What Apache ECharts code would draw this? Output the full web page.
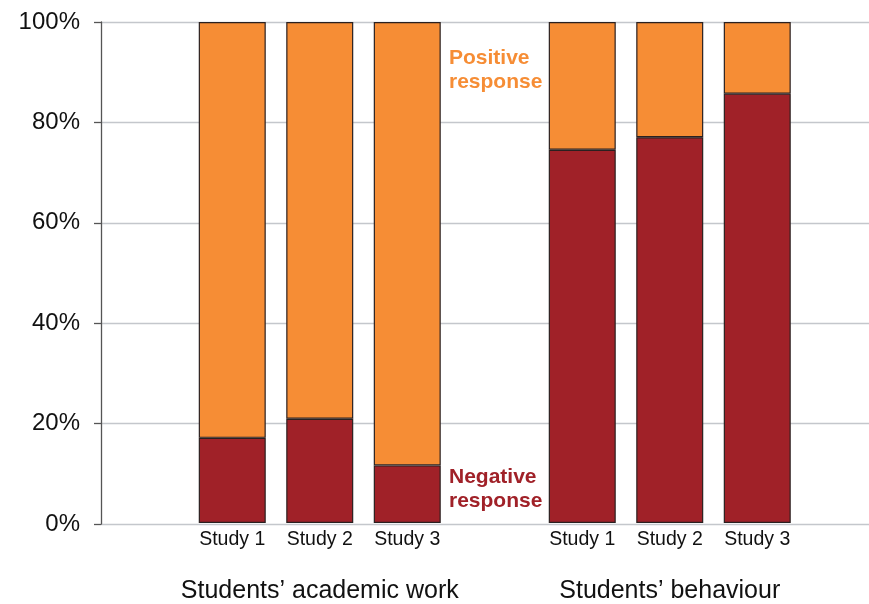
<!DOCTYPE html>
<html>
<head>
<meta charset="utf-8">
<title>Responses by study</title>
<script src="https://cdn.jsdelivr.net/npm/echarts@6/dist/echarts.min.js"></script>
<style>
  html, body { margin: 0; padding: 0; background: #ffffff; }
  #chart { width: 869px; height: 604px; }
</style>
</head>
<body>
<div id="chart"></div>
<script>
// Slots along the x axis; empty strings are spacer slots between the two groups.
const studyLabels = ['', 'Study 1', 'Study 2', 'Study 3', '', 'Study 1', 'Study 2', 'Study 3'];
const groupLabels = ['', '', 'Students\u2019 academic work', '', '', '', 'Students\u2019 behaviour', ''];

// Share of responses (%) in each study.
const negativeShare = [null, 17, 20.8, 11.5, null, 74.5, 77, 85.7];
const positiveShare = [null, 83, 79.2, 88.5, null, 25.5, 23, 14.3];

const yTicks = [0, 20, 40, 60, 80, 100];

const FONT = 'Liberation Sans, Arial, Helvetica, sans-serif';
const ORANGE = '#F68D35';
const DARK_RED = '#A02128';

const PLOT_LEFT = 101;
const PLOT_TOP = 22;
const PLOT_HEIGHT = 502;

const chart = echarts.init(document.getElementById('chart'), null, { renderer: 'canvas' });

chart.setOption({
  animation: false,
  backgroundColor: '#ffffff',
  grid: [
    // bars
    { left: PLOT_LEFT, top: PLOT_TOP, width: 700, height: PLOT_HEIGHT },
    // value axis and gridlines running to the right edge
    { left: PLOT_LEFT, top: PLOT_TOP, right: 0, height: PLOT_HEIGHT }
  ],
  xAxis: [
    {
      type: 'category',
      gridIndex: 0,
      data: studyLabels,
      axisLine: { show: false },
      axisTick: { show: false },
      axisLabel: { color: '#111', fontFamily: FONT, fontSize: 19.5, margin: 7, interval: 0 }
    },
    {
      type: 'category',
      gridIndex: 0,
      position: 'bottom',
      offset: 53,
      data: groupLabels,
      axisLine: { show: false },
      axisTick: { show: false },
      splitLine: { show: false },
      axisLabel: { color: '#111', fontFamily: FONT, fontSize: 25, margin: 3, interval: 0 }
    },
    {
      type: 'value',
      gridIndex: 1,
      show: false,
      min: 0,
      max: 1
    }
  ],
  yAxis: [
    {
      type: 'value',
      gridIndex: 0,
      min: yTicks[0],
      max: yTicks[yTicks.length - 1],
      interval: 20,
      show: false,
      splitLine: { show: false }
    },
    {
      type: 'value',
      gridIndex: 1,
      min: yTicks[0],
      max: yTicks[yTicks.length - 1],
      interval: 20,
      axisLine: { show: true, lineStyle: { color: '#555', width: 1.3 } },
      axisTick: { show: true, inside: false, length: 7, lineStyle: { color: '#555', width: 1.3 } },
      axisLabel: { formatter: '{value}%', color: '#111', fontFamily: FONT, fontSize: 24, margin: 21 },
      splitLine: { show: true, lineStyle: { color: '#c4c7cc', width: 1.4 } }
    }
  ],
  series: [
    {
      name: 'Negative response',
      type: 'bar',
      stack: 'share',
      xAxisIndex: 0,
      yAxisIndex: 0,
      barWidth: 67,
      data: negativeShare,
      itemStyle: { color: DARK_RED, borderColor: '#2a2020', borderWidth: 1.2 }
    },
    {
      name: 'Positive response',
      type: 'bar',
      stack: 'share',
      xAxisIndex: 0,
      yAxisIndex: 0,
      barWidth: 67,
      data: positiveShare,
      itemStyle: { color: ORANGE, borderColor: '#2a2020', borderWidth: 1.2 }
    }
  ],
  graphic: [
    {
      type: 'text',
      left: 449,
      top: 46,
      style: {
        text: 'Positive\nresponse',
        fill: ORANGE,
        font: 'bold 21px ' + FONT,
        lineHeight: 24
      }
    },
    {
      type: 'text',
      left: 449,
      top: 465,
      style: {
        text: 'Negative\nresponse',
        fill: DARK_RED,
        font: 'bold 21px ' + FONT,
        lineHeight: 24
      }
    }
  ]
});
</script>
</body>
</html>
